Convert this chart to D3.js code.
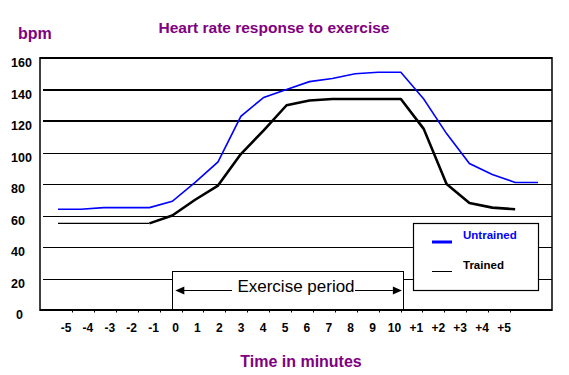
<!DOCTYPE html>
<html>
<head>
<meta charset="utf-8">
<script src="https://cdn.jsdelivr.net/npm/d3@7"></script>
<style>
  body { margin: 0; background: #fff; }
  text { font-family: "Liberation Sans", Arial, sans-serif; }
</style>
</head>
<body>
<div id="chart"></div>
<script>

var width = 569;
var height = 375;

// minutes: 5 before, 10 of exercise, 6 of recovery
var minutes = [ "-5", "-4", "-3", "-2", "-1", "0", "1", "2", "3", "4", "5", "6", "7", "8", "9", "10", "+1", "+2", "+3", "+4", "+5", "+6" ];
var untrained = [ 64, 64, 65, 65, 65, 69, 81, 94, 123, 135, 140, 145, 147, 150, 151, 151, 134, 112, 93, 86, 81, 81 ];
var trained = [ 55, 55, 55, 55, 55, 60, 70, 79, 99, 114, 130, 133, 134, 134, 134, 134, 115, 80, 68, 65, 64, null ];

var tickLabels = [ "-5", "-4", "-3", "-2", "-1", "0", "1", "2", "3", "4", "5", "6", "7", "8", "9", "10", "+1", "+2", "+3", "+4", "+5" ];
var yTicks = [ 0, 20, 40, 60, 80, 100, 120, 140, 160 ];
var thickGrid = [ 120, 140, 160 ];

var svg = d3.select( "#chart" )
    .append( "svg" )
    .attr( "width", width )
    .attr( "height", height );

var x = d3.scalePoint()
    .domain( minutes )
    .range( [58, 538] );

var xLabel = d3.scalePoint()
    .domain( tickLabels )
    .range( [66, 504] );

var y = d3.scaleLinear()
    .domain( [0, 160] )
    .range( [310, 58] );

var left = 40, right = 552;

// grid, thin lines snapped to the pixel
function gy(d){
  return thickGrid.indexOf(d) >= 0 ? Math.round( y(d) ) : Math.round( y(d) ) + 0.5;
}

svg.append( "g" )
  .selectAll( "line" )
  .data( yTicks.filter( function(d){ return d > 0; } ) )
  .enter()
  .append( "line" )
    .attr( "x1", function(d){ return d == 160 ? left : 43; } )
    .attr( "x2", right )
    .attr( "y1", gy )
    .attr( "y2", gy )
    .attr( "stroke", "#000" )
    .attr( "stroke-width", function(d){ return thickGrid.indexOf(d) >= 0 ? 2 : 1; } );

// frame
svg.append( "line" )
    .attr( "x1", left ).attr( "x2", left )
    .attr( "y1", y(160) - 1 ).attr( "y2", y(0) + 1 )
    .attr( "stroke", "#000" ).attr( "stroke-width", 1.5 );
svg.append( "line" )
    .attr( "x1", right ).attr( "x2", right )
    .attr( "y1", y(160) - 1 ).attr( "y2", y(0) + 1 )
    .attr( "stroke", "#000" ).attr( "stroke-width", 1.5 );

// y labels
svg.append( "g" )
  .selectAll( "text" )
  .data( yTicks )
  .enter()
  .append( "text" )
    .attr( "x", function(d){ return d == 0 ? 16 : 11; } )
    .attr( "y", function(d){ return y(d) + 9; } )
    .attr( "font-size", "12.5px" )
    .attr( "font-weight", "bold" )
    .text( function(d){ return d; } );

// x labels
svg.append( "g" )
  .selectAll( "text" )
  .data( tickLabels )
  .enter()
  .append( "text" )
    .attr( "x", function(d){ return xLabel(d); } )
    .attr( "y", 332 )
    .attr( "text-anchor", "middle" )
    .attr( "font-size", "12px" )
    .attr( "font-weight", "bold" )
    .text( function(d){ return d; } );

// exercise period box
var boxTop = 271.5;
svg.append( "rect" )
    .attr( "x", Math.round( x("0") ) + 0.5 )
    .attr( "y", boxTop )
    .attr( "width", Math.round( x("10") + 2 - x("0") ) )
    .attr( "height", y(0) - boxTop )
    .attr( "fill", "#fff" )
    .attr( "stroke", "#000" )
    .attr( "stroke-width", 1 );

svg.append( "text" )
    .attr( "x", 296 )
    .attr( "y", 292 )
    .attr( "text-anchor", "middle" )
    .attr( "font-size", "17px" )
    .text( "Exercise period" );

var arrowY = 290.5;
svg.append( "line" )
    .attr( "x1", 232 ).attr( "x2", x("0") + 10 )
    .attr( "y1", arrowY ).attr( "y2", arrowY )
    .attr( "stroke", "#000" );
svg.append( "path" )
    .attr( "d", d3.line()( [ [x("0") + 3, arrowY], [x("0") + 12, arrowY - 4], [x("0") + 12, arrowY + 4] ] ) + "Z" )
    .attr( "fill", "#000" );
svg.append( "line" )
    .attr( "x1", 355 ).attr( "x2", x("10") - 8 )
    .attr( "y1", arrowY ).attr( "y2", arrowY )
    .attr( "stroke", "#000" );
svg.append( "path" )
    .attr( "d", d3.line()( [ [x("10") + 1, arrowY], [x("10") - 8, arrowY - 4], [x("10") - 8, arrowY + 4] ] ) + "Z" )
    .attr( "fill", "#000" );

// bottom axis
svg.append( "line" )
    .attr( "x1", left ).attr( "x2", right )
    .attr( "y1", y(0) ).attr( "y2", y(0) )
    .attr( "stroke", "#000" ).attr( "stroke-width", 2 );

svg.append( "g" )
  .selectAll( "line" )
  .data( tickLabels )
  .enter()
  .append( "line" )
    .attr( "x1", function(d){ return Math.round( xLabel(d) ) + 6.5; } )
    .attr( "x2", function(d){ return Math.round( xLabel(d) ) + 6.5; } )
    .attr( "y1", y(0) )
    .attr( "y2", y(0) + 2.5 )
    .attr( "stroke", "#000" );

// lines
var line = d3.line()
    .defined( function(d){ return d.v != null; } )
    .x( function(d){ return x(d.m); } )
    .y( function(d){ return y(d.v); } );

var untrainedPts = minutes.map( function(m, i){ return { m: m, v: untrained[i] }; } );
var trainedPts = minutes.map( function(m, i){ return { m: m, v: trained[i] }; } );

svg.append( "path" )
    .attr( "d", line( untrainedPts ) )
    .attr( "fill", "none" )
    .attr( "stroke", "#0000ff" )
    .attr( "stroke-width", 1.6 );

// resting part of trained line is thin, the rest heavy
svg.append( "path" )
    .attr( "d", line( trainedPts.slice( 0, 5 ) ) )
    .attr( "fill", "none" )
    .attr( "stroke", "#000" )
    .attr( "stroke-width", 1.2 );
svg.append( "path" )
    .attr( "d", line( trainedPts.slice( 4 ) ) )
    .attr( "fill", "none" )
    .attr( "stroke", "#000" )
    .attr( "stroke-width", 2.6 )
    .attr( "stroke-linejoin", "round" );

// legend
var legend = svg.append( "g" );
legend.append( "rect" )
    .attr( "x", 413.5 ).attr( "y", 223.5 )
    .attr( "width", 125 ).attr( "height", 67 )
    .attr( "fill", "#fff" ).attr( "stroke", "#000" ).attr( "stroke-width", 1.2 );

var legendItems = [
  { name: "Untrained", color: "#0000ff", w: 3, text: "#0000ff" },
  { name: "Trained", color: "#000", w: 1, text: "#000" }
];

legend.selectAll( "line" )
  .data( legendItems )
  .enter()
  .append( "line" )
    .attr( "x1", 432 ).attr( "x2", 452 )
    .attr( "y1", function(d, i){ return i == 0 ? 242 : 271.5; } )
    .attr( "y2", function(d, i){ return i == 0 ? 242 : 271.5; } )
    .attr( "stroke", function(d){ return d.color; } )
    .attr( "stroke-width", function(d){ return d.w; } );

legend.selectAll( "text" )
  .data( legendItems )
  .enter()
  .append( "text" )
    .attr( "x", 463 )
    .attr( "y", function(d, i){ return 239 + i * 30; } )
    .attr( "font-size", "11.5px" )
    .attr( "font-weight", "bold" )
    .attr( "fill", function(d){ return d.text; } )
    .text( function(d){ return d.name; } );

// titles
svg.append( "text" )
    .attr( "x", 274 ).attr( "y", 33 )
    .attr( "text-anchor", "middle" )
    .attr( "font-size", "15.5px" )
    .attr( "font-weight", "bold" )
    .attr( "fill", "#800080" )
    .text( "Heart rate response to exercise" );

svg.append( "text" )
    .attr( "x", 18 ).attr( "y", 39 )
    .attr( "font-size", "16px" )
    .attr( "font-weight", "bold" )
    .attr( "fill", "#800080" )
    .text( "bpm" );

svg.append( "text" )
    .attr( "x", 301 ).attr( "y", 367 )
    .attr( "text-anchor", "middle" )
    .attr( "font-size", "16px" )
    .attr( "font-weight", "bold" )
    .attr( "fill", "#800080" )
    .text( "Time in minutes" );

</script>
</body>
</html>
